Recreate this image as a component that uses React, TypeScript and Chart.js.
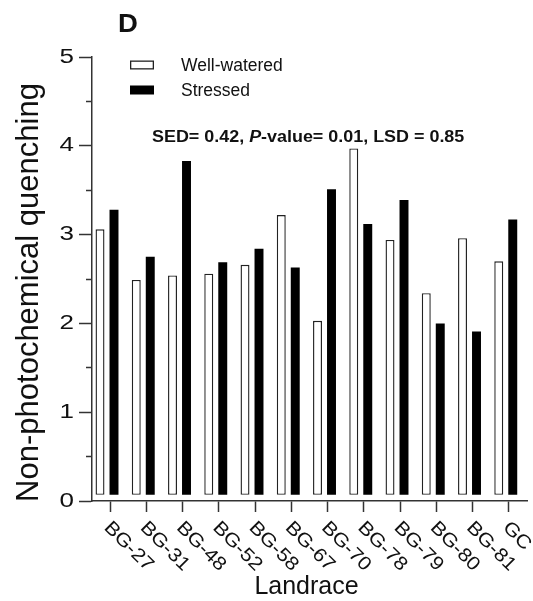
import { useEffect, useRef } from "react";
import { Chart, registerables } from "chart.js";

Chart.register(...registerables);

// Landraces on the x axis
const landraces = [
  "BG-27", "BG-31", "BG-48", "BG-52", "BG-58", "BG-67",
  "BG-70", "BG-78", "BG-79", "BG-80", "BG-81", "GC",
];

// Non-photochemical quenching per treatment
const wellWatered = [3.06, 2.49, 2.54, 2.56, 2.66, 3.22, 2.03, 3.97, 2.94, 2.34, 2.96, 2.7];
const stressed = [3.28, 2.75, 3.83, 2.69, 2.84, 2.63, 3.51, 3.12, 3.39, 2.0, 1.91, 3.17];

const seriesNames = ["Well-watered", "Stressed"];
const yTickValues = [0, 1, 2, 3, 4, 5];

// Statistics printed above the bars
const sed = 0.42;
const pValue = 0.01;
const lsd = 0.85;

const panelLetter = "D";
const yTitle = "Non-photochemical quenching";
const xTitle = "Landrace";

const FONT = '"Liberation Sans", Arial, Helvetica, sans-serif';
const INK = "#111";

// Draws axis labels, legend, panel letter and the statistics line
const decorations = {
  id: "decorations",
  afterDraw(chart: any) {
    const { ctx } = chart;
    const xs = chart.scales.x;
    const ys = chart.scales.y;
    ctx.save();
    ctx.fillStyle = INK;

    // y tick labels (integers only)
    ctx.font = `20px ${FONT}`;
    ctx.textAlign = "right";
    ctx.textBaseline = "middle";
    yTickValues.forEach((v) => {
      const py = ys.getPixelForValue(v);
      ctx.save();
      ctx.translate(74, py);
      ctx.scale(1.3, 1);
      ctx.fillText(String(v), 0, 0);
      ctx.restore();
    });

    // x tick labels, slanted downwards
    ctx.font = `19px ${FONT}`;
    ctx.textAlign = "left";
    ctx.textBaseline = "alphabetic";
    landraces.forEach((name, i) => {
      const px = xs.getPixelForTick(i);
      ctx.save();
      ctx.translate(px - 7, 528.5);
      ctx.rotate(Math.PI / 4);
      ctx.scale(1.12, 1);
      ctx.fillText(name, 0, 0);
      ctx.restore();
    });

    // axis titles
    ctx.font = `31px ${FONT}`;
    ctx.textAlign = "center";
    ctx.save();
    ctx.translate(37.5, 292.5);
    ctx.rotate(-Math.PI / 2);
    ctx.fillText(yTitle, 0, 0);
    ctx.restore();

    ctx.font = `25px ${FONT}`;
    ctx.fillText(xTitle, (chart.chartArea.left + chart.chartArea.right) / 2 - 3, 594);

    // panel letter
    ctx.font = `bold 25px ${FONT}`;
    ctx.textAlign = "left";
    ctx.save();
    ctx.translate(118, 32);
    ctx.scale(1.1, 1);
    ctx.fillText(panelLetter, 0, 0);
    ctx.restore();

    // legend
    const ds = chart.data.datasets;
    ctx.font = `17.5px ${FONT}`;
    ctx.textBaseline = "middle";
    const rows = [65, 90];
    ds.forEach((d: any, i: number) => {
      const cy = rows[i];
      ctx.fillStyle = d.borderColor;
      ctx.fillRect(130, cy - 4.5, 24, 9);
      if (d.borderWidth > 0) {
        ctx.fillStyle = d.backgroundColor;
        ctx.fillRect(131.3, cy - 3.2, 21.4, 6.4);
      }
      ctx.fillStyle = INK;
      ctx.fillText(d.label, 181, cy + 1);
    });

    // statistics line with italic P
    ctx.textBaseline = "alphabetic";
    ctx.save();
    ctx.translate(152, 141.5);
    ctx.scale(1.12, 1);
    const parts: [string, string][] = [
      [`SED= ${sed.toFixed(2)}, `, "bold"],
      ["P", "italic bold"],
      [`-value= ${pValue.toFixed(2)}, LSD = ${lsd.toFixed(2)}`, "bold"],
    ];
    let cx = 0;
    parts.forEach(([txt, style]) => {
      ctx.font = `${style} 16px ${FONT}`;
      ctx.fillText(txt, cx, 0);
      cx += ctx.measureText(txt).width;
    });
    ctx.restore();

    ctx.restore();
  },
};

export default function App() {
  const canvasRef = useRef<HTMLCanvasElement | null>(null);

  useEffect(() => {
    document.body.style.margin = "0";
    const canvas = canvasRef.current;
    if (!canvas) return;

    const toPoints = (arr: number[]) => arr.map((v, i) => ({ x: i, y: v }));
    const barShape = {
      xAxisID: "xb",
      yAxisID: "y",
      base: 0.07,
      borderSkipped: false,
      categoryPercentage: 0.772,
      barPercentage: 0.64,
    };

    const chart = new Chart(canvas, {
      type: "bar",
      data: {
        labels: landraces,
        datasets: [
          {
            ...barShape,
            label: seriesNames[0],
            data: toPoints(wellWatered),
            backgroundColor: "#ffffff",
            borderColor: "#222222",
            borderWidth: 1.4,
          },
          {
            ...barShape,
            label: seriesNames[1],
            data: toPoints(stressed),
            backgroundColor: "#000000",
            borderColor: "#000000",
            borderWidth: 0,
          },
        ],
      } as any,
      options: {
        animation: false,
        responsive: false,
        devicePixelRatio: 1,
        layout: { padding: { top: 57, right: 6, bottom: 0, left: 0 } },
        plugins: {
          legend: { display: false },
          tooltip: { enabled: false },
          title: { display: false },
        },
        scales: {
          // bar placement axis, sits slightly left of the labelled ticks
          xb: {
            type: "linear",
            display: false,
            position: "bottom",
            offset: false,
            grid: { offset: false },
            min: -0.414,
            max: 11.586,
            afterBuildTicks: (axis: any) => {
              axis.ticks = landraces.map((_, i) => ({ value: i }));
            },
          },
          x: {
            type: "category",
            position: "bottom",
            offset: true,
            grid: {
              offset: false,
              drawOnChartArea: false,
              drawTicks: true,
              tickLength: 11,
              tickColor: "#333",
              tickWidth: 1.5,
            },
            border: { display: true, color: "#333", width: 1.5 },
            ticks: { display: false },
            afterFit: (s: any) => {
              s.height = 100;
            },
          },
          y: {
            type: "linear",
            position: "left",
            min: 0,
            max: 5,
            ticks: { display: false, stepSize: 0.5 },
            grid: {
              drawOnChartArea: false,
              drawTicks: true,
              tickLength: 13,
              tickColor: "#333",
              tickWidth: 1.5,
              tickBorderDash: (c: any) =>
                c.tick && c.tick.value % 1 !== 0 ? [0, 7, 6, 100] : [],
            },
            border: { display: true, color: "#333", width: 1.5 },
            afterFit: (s: any) => {
              s.width = 92;
            },
          },
        },
      } as any,
      plugins: [decorations],
    });

    return () => chart.destroy();
  }, []);

  return (
    <div style={{ width: 533, height: 601, background: "#fff" }}>
      <canvas ref={canvasRef} width={533} height={601} style={{ display: "block" }} />
    </div>
  );
}
